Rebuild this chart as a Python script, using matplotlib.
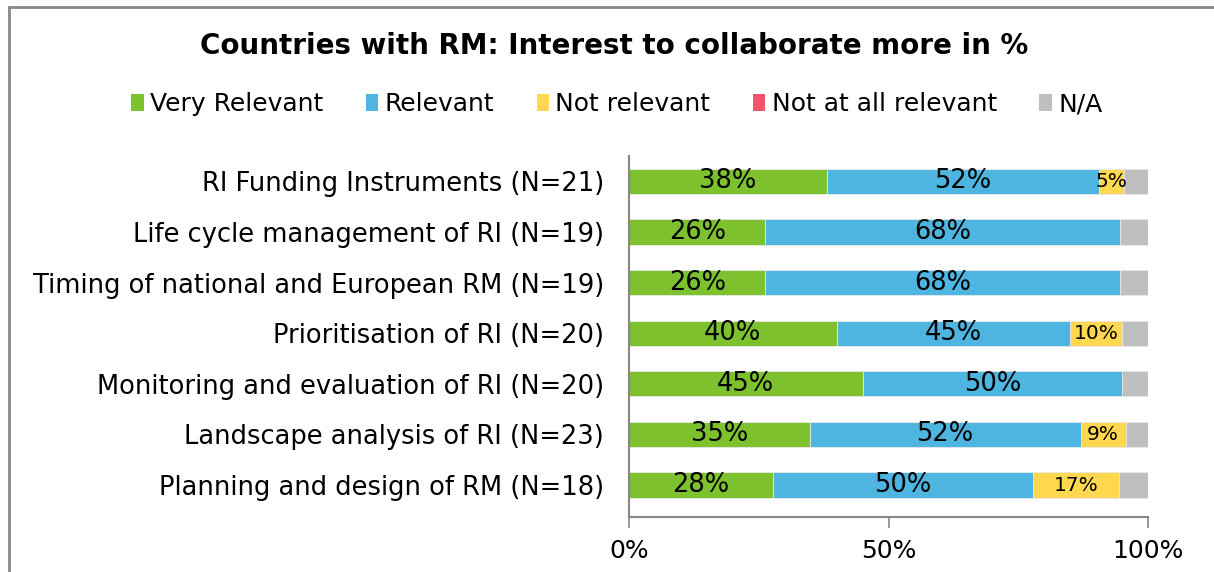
import matplotlib
matplotlib.use("Agg")
import matplotlib.pyplot as plt
from matplotlib.patches import Rectangle, Patch
import numpy as np

categories = [
    "RI Funding Instruments (N=21)",
    "Life cycle management of RI (N=19)",
    "Timing of national and European RM (N=19)",
    "Prioritisation of RI (N=20)",
    "Monitoring and evaluation of RI (N=20)",
    "Landscape analysis of RI (N=23)",
    "Planning and design of RM (N=18)",
]
very_relevant = [38.1, 26.3, 26.3, 40.0, 45.0, 34.8, 27.8]
relevant = [52.4, 68.4, 68.4, 45.0, 50.0, 52.2, 50.0]
not_relevant = [4.8, 0.0, 0.0, 10.0, 0.0, 8.7, 16.7]
not_at_all = [0.0, 0.0, 0.0, 0.0, 0.0, 0.0, 0.0]
na = [4.8, 5.3, 5.3, 5.0, 5.0, 4.3, 5.6]

series_names = ["Very Relevant", "Relevant", "Not relevant", "Not at all relevant", "N/A"]
series = [very_relevant, relevant, not_relevant, not_at_all, na]
colors = ["#7DC22E", "#4DB5E0", "#FFD84F", "#F2556B", "#BFBFBF"]
x_ticks = [0, 50, 100]
x_tick_labels = ["0%", "50%", "100%"]

W, H = 1214, 572
fig = plt.figure(figsize=(W / 100, H / 100), dpi=100)
ax = fig.add_axes([629 / W, 1 - 517 / H, (1148 - 629) / W, (517 - 156) / H])

y = np.arange(len(categories))[::-1]
left = np.zeros(len(categories))
for si, (name, vals, col) in enumerate(zip(series_names, series, colors)):
    vals = np.array(vals)
    ax.barh(y, vals, left=left, height=0.5, color=col, edgecolor="#E8E8E8",
            linewidth=0.6, label=name)
    if si < 3:
        for yi, l, v in zip(y, left, vals):
            if v > 0:
                fs = 14.5 if si == 2 else 18.5
                ax.text(l + v / 2, yi, f"{v:.0f}%", ha="center", va="center",
                        fontsize=fs, color="black")
    left += vals

ax.set_xlim(0, 100)
ax.set_ylim(-0.63, 6.5)
ax.set_yticks(y)
ax.set_yticklabels(categories, fontsize=18.5)
ax.set_xticks(x_ticks)
ax.set_xticklabels(x_tick_labels, fontsize=18)
ax.tick_params(axis="y", length=0, pad=18)
ax.tick_params(axis="x", length=8, color="#888888", pad=8, width=1.2)
for s in ["top", "right"]:
    ax.spines[s].set_visible(False)
for s in ["left", "bottom"]:
    ax.spines[s].set_color("#888888")
    ax.spines[s].set_linewidth(1.5)

fig.text(0.506, 1 - 46 / H, "Countries with RM: Interest to collaborate more in %",
         ha="center", va="center", fontsize=20, fontweight="bold")

handles = [Patch(facecolor=c, edgecolor="none") for c in colors]
fig.legend(handles, series_names, loc="center", bbox_to_anchor=(0.508, 1 - 104 / H),
           ncol=5, frameon=False, fontsize=18, handlelength=0.5, handleheight=0.65,
           handletextpad=0.25, columnspacing=1.7)

fig.add_artist(Rectangle((9 / W, -0.1), 1.2, 1 - 7 / H + 0.1, transform=fig.transFigure,
                         fill=False, edgecolor="#888888", linewidth=2))

fig.savefig("out.png", dpi=100)
